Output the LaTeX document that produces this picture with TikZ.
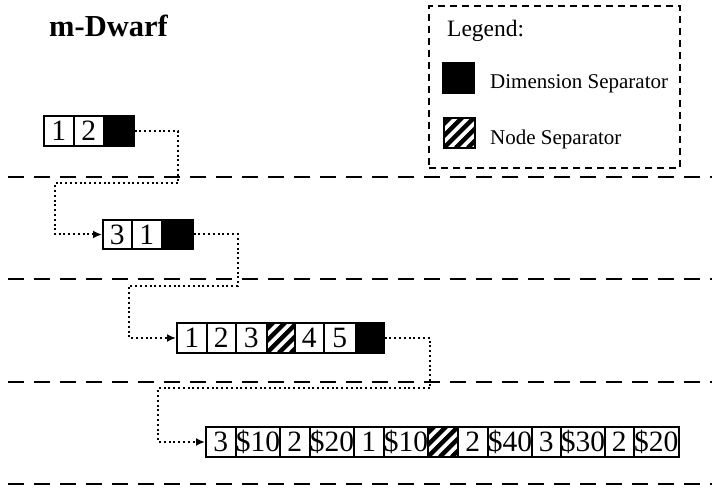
\documentclass[tikz,border=0pt]{standalone}
\usepackage{fontspec}
\setmainfont{Liberation Serif}
\usetikzlibrary{arrows.meta}
\newcommand{\cellfont}{\fontsize{29.5}{32}\selectfont}
\tikzset{
  cell/.style={draw, line width=1.5pt, inner sep=0pt, minimum height=30pt, anchor=west, font=\cellfont},
  dimsep/.style={cell, fill=black},
  nodesep/.style={cell, path picture={
      \foreach \d in {-24,-12,0,12,24}
        \draw[line width=4.5pt] ([xshift=\d pt]path picture bounding box.south west) -- ++(40pt,40pt);}},
  sepline/.style={line width=2pt, dash pattern=on 16pt off 10pt},
  link/.style={line width=2pt, dash pattern=on 2pt off 2.8pt, -{Latex[length=9pt,width=8pt]}},
  lgtext/.style={anchor=base west, font=\fontsize{21}{24}\selectfont, inner sep=0pt},
}
\begin{document}
\begin{tikzpicture}[x=1pt,y=-1pt]
\useasboundingbox (0,0) rectangle (715,489);
% title
\node[anchor=base west, inner sep=0pt, font=\fontsize{30.5}{33}\selectfont\bfseries] (title) at (49,37) {m-Dwarf};
% legend
\node[draw, line width=2pt, dash pattern=on 7pt off 5pt, minimum width=251pt, minimum height=162pt, anchor=north west, inner sep=0pt] (legend) at (428,5) {};
\node[lgtext, font=\fontsize{23.5}{26}\selectfont] (lgtitle) at (447,37) {Legend:};
\node[dimsep, minimum width=31pt, minimum height=30pt] (lgdim) at (442,78) {};
\node[nodesep, minimum width=31pt, minimum height=30pt] (lgnode) at (443,133) {};
\node[lgtext] (lgdimtxt) at (490,89) {Dimension Separator};
\node[lgtext] (lgnodetxt) at (490,145) {Node Separator};
% separator lines
\coordinate (s1a) at (8,177); \coordinate (s1b) at (712,177);
\coordinate (s2a) at (8,279); \coordinate (s2b) at (712,279);
\coordinate (s3a) at (8,382); \coordinate (s3b) at (712,382);
\coordinate (s4a) at (8,484); \coordinate (s4b) at (712,484);
\draw[sepline] (s1a) -- (s1b);
\draw[sepline] (s2a) -- (s2b);
\draw[sepline] (s3a) -- (s3b);
\draw[sepline] (s4a) -- (s4b);
% row 1
\node[cell, minimum width=30pt] (r1a) at (43,131) {1};
\node[cell, minimum width=30pt] (r1b) at (73,131) {2};
\node[dimsep, minimum width=30pt] (r1c) at (103,131) {};
% row 2
\node[cell, minimum width=29pt, minimum height=29pt] (r2a) at (102,234.5) {3};
\node[cell, minimum width=30pt, minimum height=29pt] (r2b) at (131,234.5) {1};
\node[dimsep, minimum width=31pt, minimum height=29pt] (r2c) at (161,234.5) {};
% row 3
\node[cell, minimum width=30pt] (r3a) at (176,338) {1};
\node[cell, minimum width=29pt] (r3b) at (206,338) {2};
\node[cell, minimum width=31pt] (r3c) at (235,338) {3};
\node[nodesep, minimum width=28pt] (r3d) at (266,338) {};
\node[cell, minimum width=29pt] (r3e) at (294,338) {4};
\node[cell, minimum width=32pt] (r3f) at (323,338) {5};
\node[dimsep, minimum width=28pt] (r3g) at (355,338) {};
% row 4
\node[cell, minimum width=30pt] (r4a) at (205,442) {3};
\node[cell, minimum width=44pt] (r4b) at (235,442) {\$10};
\node[cell, minimum width=30pt] (r4c) at (279,442) {2};
\node[cell, minimum width=44pt] (r4d) at (309,442) {\$20};
\node[cell, minimum width=30pt] (r4e) at (353,442) {1};
\node[cell, minimum width=44pt] (r4f) at (383,442) {\$10};
\node[nodesep, minimum width=30pt] (r4g) at (427,442) {};
\node[cell, minimum width=30pt] (r4h) at (457,442) {2};
\node[cell, minimum width=44pt] (r4i) at (487,442) {\$40};
\node[cell, minimum width=29pt] (r4j) at (531,442) {3};
\node[cell, minimum width=44pt] (r4k) at (560,442) {\$30};
\node[cell, minimum width=29pt] (r4l) at (604,442) {2};
\node[cell, minimum width=45pt] (r4m) at (633,442) {\$20};
% connectors
\coordinate (k1) at (178,183); \coordinate (k2) at (55,183);
\coordinate (k3) at (238,286); \coordinate (k4) at (129,286);
\coordinate (k5) at (430,388); \coordinate (k6) at (158,388);
\draw[link] (r1c.east) -| (k1) -- (k2) |- (r2a.west);
\draw[link] (r2c.east) -| (k3) -- (k4) |- (r3a.west);
\draw[link] (r3g.east) -| (k5) -- (k6) |- (r4a.west);
\end{tikzpicture}
\end{document}
